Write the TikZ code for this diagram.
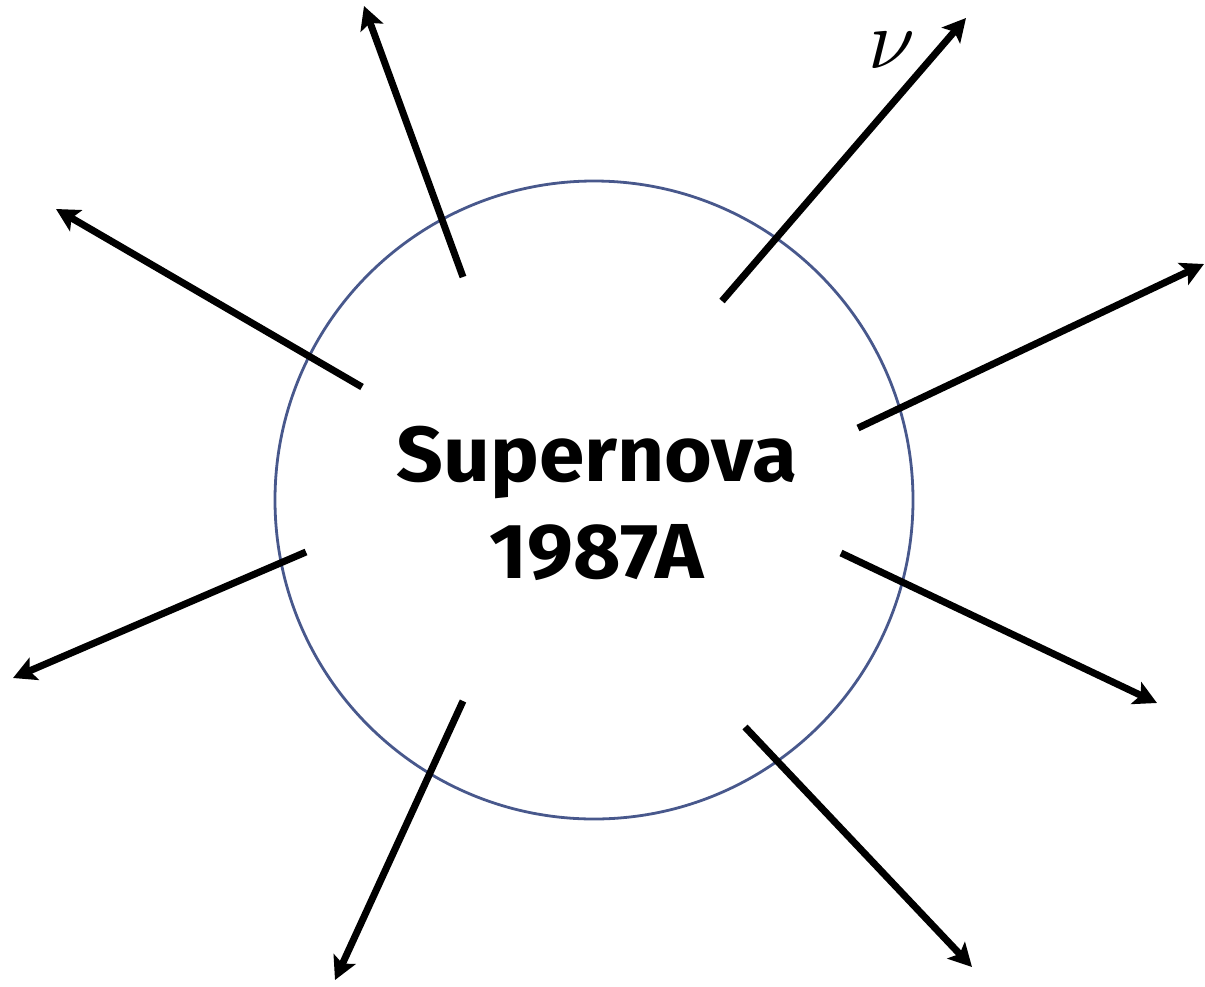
\documentclass[tikz,border=0pt]{standalone}
\usepackage{fontspec}
\setmainfont{Fira Sans}[FakeStretch=1.05]
\usetikzlibrary{arrows.meta}
\definecolor{rim}{RGB}{72,88,140}
\tikzset{
  ray/.style={line width=7pt, -{Stealth[length=23pt,width=24pt,inset=5pt]}, black},
  star/.style={circle, draw=rim, line width=2.8pt, minimum size=638pt, inner sep=0pt,
    align=center, font=\fontsize{78}{97}\selectfont\bfseries}
}
\begin{document}
\begin{tikzpicture}[x=1pt,y=-1pt]
\useasboundingbox (0,0) rectangle (1205,986);
\draw[rim, line width=2.8pt] (594,500) circle[radius=319];
\node[star, draw=none] (sn) at (597,503) {Supernova\\1987A};
% ray starts and ends
\coordinate (s1) at (463,277); \coordinate (e1) at (364,6);
\coordinate (s2) at (722,301); \coordinate (e2) at (966,18);
\coordinate (s3) at (362,387); \coordinate (e3) at (56,209);
\coordinate (s4) at (858,428); \coordinate (e4) at (1204,264);
\coordinate (s5) at (306,552); \coordinate (e5) at (13,678);
\coordinate (s6) at (841,553); \coordinate (e6) at (1157,703);
\coordinate (s7) at (463,701); \coordinate (e7) at (335,980);
\coordinate (s8) at (745,727); \coordinate (e8) at (972,967);
\foreach \i in {1,...,8} \draw[ray] (s\i) -- (e\i);
\node[inner sep=0pt] (nu) at (892,50) {\scalebox{8.4}{$\nu$}};
\end{tikzpicture}
\end{document}
